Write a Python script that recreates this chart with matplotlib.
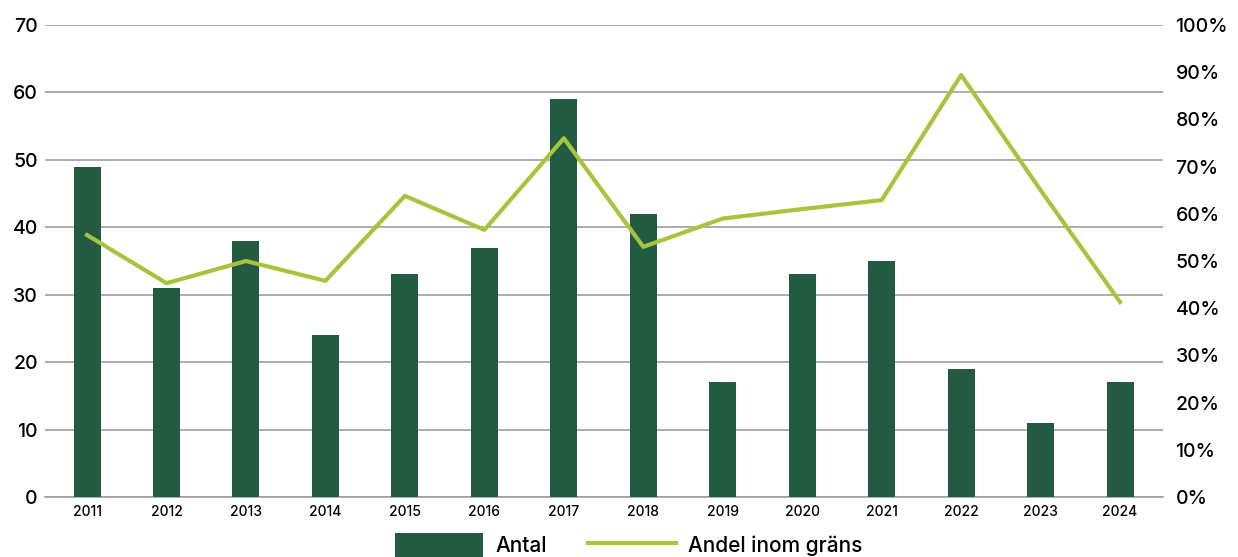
import matplotlib.pyplot as plt
import matplotlib
from matplotlib.ticker import FuncFormatter

matplotlib.rcParams['font.family'] = ['Inter', 'DejaVu Sans']
matplotlib.rcParams['font.weight'] = 'medium'

# data
years = ['2011', '2012', '2013', '2014', '2015', '2016', '2017',
         '2018', '2019', '2020', '2021', '2022', '2023', '2024']
antal = [49, 31, 38, 24, 33, 37, 59, 42, 17, 33, 35, 19, 11, 17]
andel = [55.5, 45.3, 50.0, 45.8, 63.8, 56.6, 76.0, 53.0, 59.0, 61.0, 62.9, 89.4, 65.0, 41.3]

bar_color = '#235B42'
line_color = '#A8C43C'
grid_color = '#9E9E9E'

fig = plt.figure(figsize=(12.38, 5.57), dpi=100)
ax = fig.add_axes([0.0363, 0.1077, 0.9031, 0.8474])
ax2 = ax.twinx()

x = list(range(len(years)))
bars = ax.bar(x, antal, width=0.34, color=bar_color, zorder=3, label='Antal')
line, = ax2.plot(x, andel, color=line_color, lw=3, zorder=4, label='Andel inom gräns')

ax.set_xlim(-0.53, 13.54)
ax.set_ylim(0, 70)
ax.set_yticks(range(0, 71, 10))
ax2.set_ylim(0, 100)
ax2.set_yticks(range(0, 101, 10))
ax2.yaxis.set_major_formatter(FuncFormatter(lambda v, p: f'{int(v)}%'))

ax.yaxis.grid(True, color=grid_color, lw=1.2, zorder=0)
ax.set_axisbelow(True)
ax.set_xticks(x)
ax.set_xticklabels(years, fontsize=10)

for a in (ax, ax2):
    for s in a.spines.values():
        s.set_visible(False)
    a.tick_params(length=0)
ax.spines['bottom'].set_visible(True)
ax.spines['bottom'].set_color(grid_color)
ax.spines['bottom'].set_linewidth(1.2)

ax.tick_params(axis='y', labelsize=14, pad=5)
ax.tick_params(axis='x', pad=6)
ax2.tick_params(axis='y', labelsize=14, pad=9)

fig.legend([bars, line], ['Antal', 'Andel inom gräns'], loc='center',
           bbox_to_anchor=(0.508, 0.021), ncol=2, frameon=False, fontsize=15,
           handlelength=4.2, handleheight=1.4, columnspacing=2.0, handletextpad=0.6)

plt.savefig('out.png', dpi=100)
plt.close()
